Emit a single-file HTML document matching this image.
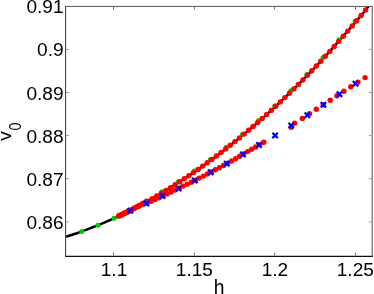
<!DOCTYPE html>
<html><head><meta charset="utf-8"><style>
html,body{margin:0;padding:0;background:#fff;}
body{width:374px;height:294px;overflow:hidden;}
svg{display:block;}
text{font-family:"Liberation Sans",sans-serif;fill:#000;}
.t{filter:grayscale(1);}
</style></head><body>
<svg width="374" height="294" viewBox="0 0 374 294">
<defs><clipPath id="c"><rect x="66" y="6" width="306" height="250"/></clipPath></defs>
<rect width="374" height="294" fill="#fff"/>
<g clip-path="url(#c)">
<polyline points="66.0,236.6 67.5,236.2 69.1,235.7 70.6,235.2 72.2,234.7 73.7,234.2 75.2,233.7 76.8,233.2 78.3,232.6 79.8,232.1 81.4,231.5 82.9,231.0 84.5,230.4 86.0,229.9 87.5,229.3 89.1,228.7 90.6,228.1 92.1,227.5 93.7,226.9 95.2,226.3 96.8,225.7 98.3,225.1 99.8,224.4 101.4,223.8 102.9,223.1 104.4,222.5 106.0,221.8 107.5,221.2 109.1,220.5 110.6,219.8 112.1,219.1 113.7,218.4 115.2,217.7 116.7,217.0 118.3,216.3 119.8,215.5 121.4,214.8 122.9,214.0 124.4,213.3 126.0,212.5 127.5,211.8 129.0,211.0 130.6,210.2 132.1,209.4 133.7,208.7 135.2,207.9 136.7,207.1 138.3,206.2 139.8,205.4 141.3,204.6 142.9,203.8 144.4,202.9 146.0,202.1 147.5,201.2 149.0,200.4 150.6,199.5 152.1,198.6 153.6,197.7 155.2,196.9 156.7,196.0 158.3,195.1 159.8,194.1 161.3,193.2 162.9,192.3 164.4,191.4 165.9,190.4 167.5,189.5 169.0,188.6 170.6,187.6 172.1,186.6 173.6,185.7 175.2,184.7 176.7,183.7 178.3,182.7 179.8,181.7 181.3,180.7 182.9,179.7 184.4,178.7 185.9,177.7 187.5,176.7 189.0,175.6 190.6,174.6 192.1,173.5 193.6,172.5 195.2,171.4 196.7,170.3 198.2,169.3 199.8,168.2 201.3,167.1 202.9,166.0 204.4,164.9 205.9,163.8 207.5,162.7 209.0,161.5 210.5,160.4 212.1,159.3 213.6,158.1 215.2,157.0 216.7,155.8 218.2,154.7 219.8,153.5 221.3,152.3 222.8,151.1 224.4,150.0 225.9,148.8 227.5,147.6 229.0,146.3 230.5,145.1 232.1,143.9 233.6,142.7 235.1,141.4 236.7,140.2 238.2,138.9 239.8,137.7 241.3,136.4 242.8,135.1 244.4,133.9 245.9,132.6 247.4,131.3 249.0,130.0 250.5,128.7 252.1,127.4 253.6,126.0 255.1,124.7 256.7,123.4 258.2,122.0 259.7,120.7 261.3,119.3 262.8,118.0 264.4,116.6 265.9,115.2 267.4,113.8 269.0,112.4 270.5,111.0 272.1,109.6 273.6,108.2 275.1,106.8 276.7,105.4 278.2,103.9 279.7,102.5 281.3,101.1 282.8,99.6 284.4,98.1 285.9,96.7 287.4,95.2 289.0,93.7 290.5,92.2 292.0,90.7 293.6,89.2 295.1,87.7 296.7,86.1 298.2,84.6 299.7,83.1 301.3,81.5 302.8,80.0 304.3,78.4 305.9,76.8 307.4,75.3 309.0,73.7 310.5,72.1 312.0,70.5 313.6,68.9 315.1,67.3 316.6,65.6 318.2,64.0 319.7,62.3 321.3,60.7 322.8,59.0 324.3,57.4 325.9,55.7 327.4,54.0 328.9,52.3 330.5,50.6 332.0,48.9 333.6,47.2 335.1,45.5 336.6,43.7 338.2,42.0 339.7,40.3 341.2,38.5 342.8,36.7 344.3,35.0 345.9,33.2 347.4,31.5 348.9,29.7 350.5,27.9 352.0,26.2 353.5,24.4 355.1,22.6 356.6,20.8 358.2,19.0 359.7,17.2 361.2,15.3 362.8,13.5 364.3,11.6 365.8,9.7 367.4,7.8 368.9,5.8" fill="none" stroke="#000" stroke-width="2.5" clip-path="url(#c)"/>
<circle cx="81.8" cy="231.4" r="2.5" fill="#00cc00"/>
<circle cx="97.9" cy="225.2" r="2.5" fill="#00cc00"/>
<circle cx="114.0" cy="218.2" r="2.5" fill="#00cc00"/>
<circle cx="130.1" cy="210.5" r="2.5" fill="#00cc00"/>
<circle cx="146.0" cy="201.0" r="2.5" fill="#00cc00"/>
<circle cx="162.1" cy="191.7" r="2.5" fill="#00cc00"/>
<circle cx="178.2" cy="181.7" r="2.5" fill="#00cc00"/>
<circle cx="194.3" cy="170.9" r="2.5" fill="#00cc00"/>
<circle cx="210.3" cy="159.4" r="2.5" fill="#00cc00"/>
<circle cx="226.4" cy="147.2" r="2.5" fill="#00cc00"/>
<circle cx="242.5" cy="134.2" r="2.5" fill="#00cc00"/>
<circle cx="258.6" cy="120.5" r="2.5" fill="#00cc00"/>
<circle cx="274.7" cy="106.0" r="2.5" fill="#00cc00"/>
<circle cx="290.8" cy="90.7" r="2.5" fill="#00cc00"/>
<circle cx="306.9" cy="74.6" r="2.5" fill="#00cc00"/>
<circle cx="323.0" cy="57.6" r="2.5" fill="#00cc00"/>
<circle cx="339.1" cy="39.8" r="2.5" fill="#00cc00"/>
<circle cx="355.1" cy="21.3" r="2.5" fill="#00cc00"/>
<circle cx="365.6" cy="10.0" r="2.7" fill="#f00"/>
<circle cx="361.1" cy="15.5" r="2.7" fill="#f00"/>
<circle cx="356.6" cy="20.8" r="2.7" fill="#f00"/>
<circle cx="352.2" cy="26.0" r="2.7" fill="#f00"/>
<circle cx="347.7" cy="31.1" r="2.7" fill="#f00"/>
<circle cx="343.2" cy="36.3" r="2.7" fill="#f00"/>
<circle cx="338.7" cy="41.4" r="2.7" fill="#f00"/>
<circle cx="334.2" cy="46.4" r="2.7" fill="#f00"/>
<circle cx="329.8" cy="51.4" r="2.7" fill="#f00"/>
<circle cx="325.3" cy="56.3" r="2.7" fill="#f00"/>
<circle cx="320.8" cy="61.2" r="2.7" fill="#f00"/>
<circle cx="316.3" cy="66.0" r="2.7" fill="#f00"/>
<circle cx="311.8" cy="70.7" r="2.7" fill="#f00"/>
<circle cx="307.4" cy="75.3" r="2.7" fill="#f00"/>
<circle cx="302.9" cy="79.9" r="2.7" fill="#f00"/>
<circle cx="298.4" cy="84.4" r="2.7" fill="#f00"/>
<circle cx="293.9" cy="88.9" r="2.7" fill="#f00"/>
<circle cx="289.4" cy="93.3" r="2.7" fill="#f00"/>
<circle cx="284.9" cy="97.6" r="2.7" fill="#f00"/>
<circle cx="280.3" cy="101.9" r="2.7" fill="#f00"/>
<circle cx="275.8" cy="106.2" r="2.7" fill="#f00"/>
<circle cx="271.3" cy="110.4" r="2.7" fill="#f00"/>
<circle cx="266.7" cy="114.5" r="2.7" fill="#f00"/>
<circle cx="262.2" cy="118.5" r="2.7" fill="#f00"/>
<circle cx="257.7" cy="122.5" r="2.7" fill="#f00"/>
<circle cx="253.1" cy="126.4" r="2.7" fill="#f00"/>
<circle cx="248.6" cy="130.3" r="2.7" fill="#f00"/>
<circle cx="244.1" cy="134.1" r="2.7" fill="#f00"/>
<circle cx="239.5" cy="137.9" r="2.7" fill="#f00"/>
<circle cx="234.9" cy="141.6" r="2.7" fill="#f00"/>
<circle cx="230.3" cy="145.3" r="2.7" fill="#f00"/>
<circle cx="225.7" cy="148.9" r="2.7" fill="#f00"/>
<circle cx="221.1" cy="152.5" r="2.7" fill="#f00"/>
<circle cx="216.5" cy="156.0" r="2.7" fill="#f00"/>
<circle cx="211.9" cy="159.4" r="2.7" fill="#f00"/>
<circle cx="207.3" cy="162.8" r="2.7" fill="#f00"/>
<circle cx="202.7" cy="166.1" r="2.7" fill="#f00"/>
<circle cx="198.1" cy="169.4" r="2.7" fill="#f00"/>
<circle cx="193.5" cy="172.6" r="2.7" fill="#f00"/>
<circle cx="188.9" cy="175.7" r="2.7" fill="#f00"/>
<circle cx="184.3" cy="178.8" r="2.7" fill="#f00"/>
<circle cx="179.7" cy="181.8" r="2.7" fill="#f00"/>
<circle cx="175.1" cy="184.8" r="2.7" fill="#f00"/>
<circle cx="170.5" cy="187.6" r="2.7" fill="#f00"/>
<circle cx="165.9" cy="190.5" r="2.7" fill="#f00"/>
<circle cx="161.3" cy="193.3" r="2.7" fill="#f00"/>
<circle cx="156.7" cy="196.0" r="2.7" fill="#f00"/>
<circle cx="152.1" cy="198.6" r="2.7" fill="#f00"/>
<circle cx="147.5" cy="201.2" r="2.7" fill="#f00"/>
<circle cx="142.9" cy="203.8" r="2.7" fill="#f00"/>
<circle cx="138.3" cy="206.2" r="2.7" fill="#f00"/>
<circle cx="133.7" cy="208.6" r="2.7" fill="#f00"/>
<circle cx="129.1" cy="211.0" r="2.7" fill="#f00"/>
<circle cx="124.5" cy="213.3" r="2.7" fill="#f00"/>
<circle cx="119.9" cy="215.5" r="2.7" fill="#f00"/>
<circle cx="119.2" cy="215.8" r="2.7" fill="#f00"/>
<circle cx="120.2" cy="215.3" r="2.7" fill="#f00"/>
<circle cx="121.2" cy="214.9" r="2.7" fill="#f00"/>
<circle cx="122.2" cy="214.4" r="2.7" fill="#f00"/>
<circle cx="123.2" cy="213.9" r="2.7" fill="#f00"/>
<circle cx="124.2" cy="213.4" r="2.7" fill="#f00"/>
<circle cx="125.2" cy="212.9" r="2.7" fill="#f00"/>
<circle cx="126.2" cy="212.4" r="2.7" fill="#f00"/>
<circle cx="127.2" cy="211.9" r="2.7" fill="#f00"/>
<circle cx="128.2" cy="211.4" r="2.7" fill="#f00"/>
<circle cx="129.2" cy="210.9" r="2.7" fill="#f00"/>
<circle cx="130.2" cy="210.4" r="2.7" fill="#f00"/>
<circle cx="132.2" cy="209.4" r="2.7" fill="#f00"/>
<circle cx="134.2" cy="208.4" r="2.7" fill="#f00"/>
<circle cx="136.2" cy="207.3" r="2.7" fill="#f00"/>
<circle cx="138.2" cy="206.3" r="2.7" fill="#f00"/>
<circle cx="140.2" cy="205.2" r="2.7" fill="#f00"/>
<circle cx="142.2" cy="204.1" r="2.7" fill="#f00"/>
<circle cx="144.2" cy="203.0" r="2.7" fill="#f00"/>
<circle cx="263.8" cy="142.2" r="2.7" fill="#f00"/>
<circle cx="259.8" cy="144.6" r="2.7" fill="#f00"/>
<circle cx="255.7" cy="147.0" r="2.7" fill="#f00"/>
<circle cx="251.7" cy="149.3" r="2.7" fill="#f00"/>
<circle cx="247.7" cy="151.6" r="2.7" fill="#f00"/>
<circle cx="243.7" cy="154.0" r="2.7" fill="#f00"/>
<circle cx="239.6" cy="156.3" r="2.7" fill="#f00"/>
<circle cx="235.6" cy="158.7" r="2.7" fill="#f00"/>
<circle cx="231.6" cy="161.0" r="2.7" fill="#f00"/>
<circle cx="227.5" cy="163.3" r="2.7" fill="#f00"/>
<circle cx="223.5" cy="165.5" r="2.7" fill="#f00"/>
<circle cx="219.5" cy="167.7" r="2.7" fill="#f00"/>
<circle cx="215.4" cy="169.8" r="2.7" fill="#f00"/>
<circle cx="211.4" cy="171.9" r="2.7" fill="#f00"/>
<circle cx="207.4" cy="174.0" r="2.7" fill="#f00"/>
<circle cx="203.4" cy="176.1" r="2.7" fill="#f00"/>
<circle cx="199.3" cy="178.1" r="2.7" fill="#f00"/>
<circle cx="195.3" cy="180.2" r="2.7" fill="#f00"/>
<circle cx="191.3" cy="182.2" r="2.7" fill="#f00"/>
<circle cx="187.2" cy="184.2" r="2.7" fill="#f00"/>
<circle cx="183.2" cy="186.1" r="2.7" fill="#f00"/>
<circle cx="179.2" cy="188.1" r="2.7" fill="#f00"/>
<circle cx="175.1" cy="190.0" r="2.7" fill="#f00"/>
<circle cx="171.1" cy="192.0" r="2.7" fill="#f00"/>
<circle cx="167.1" cy="193.9" r="2.7" fill="#f00"/>
<circle cx="163.1" cy="195.8" r="2.7" fill="#f00"/>
<circle cx="159.0" cy="197.7" r="2.7" fill="#f00"/>
<circle cx="155.0" cy="199.5" r="2.7" fill="#f00"/>
<circle cx="151.0" cy="201.4" r="2.7" fill="#f00"/>
<circle cx="146.9" cy="203.3" r="2.7" fill="#f00"/>
<circle cx="142.9" cy="203.8" r="2.7" fill="#f00"/>
<circle cx="138.9" cy="205.9" r="2.7" fill="#f00"/>
<circle cx="134.8" cy="208.0" r="2.7" fill="#f00"/>
<circle cx="130.8" cy="210.1" r="2.7" fill="#f00"/>
<circle cx="126.8" cy="212.1" r="2.7" fill="#f00"/>
<circle cx="122.8" cy="214.1" r="2.7" fill="#f00"/>
<circle cx="118.7" cy="216.0" r="2.7" fill="#f00"/>
<circle cx="294.6" cy="123.3" r="2.7" fill="#f00"/>
<circle cx="302.3" cy="118.4" r="2.7" fill="#f00"/>
<circle cx="309.5" cy="113.7" r="2.7" fill="#f00"/>
<circle cx="316.3" cy="109.3" r="2.7" fill="#f00"/>
<circle cx="323.3" cy="104.8" r="2.7" fill="#f00"/>
<circle cx="330.2" cy="100.3" r="2.7" fill="#f00"/>
<circle cx="337.0" cy="95.8" r="2.7" fill="#f00"/>
<circle cx="343.9" cy="91.3" r="2.7" fill="#f00"/>
<circle cx="350.8" cy="86.8" r="2.7" fill="#f00"/>
<circle cx="357.9" cy="82.2" r="2.7" fill="#f00"/>
<circle cx="365.1" cy="77.6" r="2.7" fill="#f00"/>
<circle cx="291.3" cy="127.2" r="2.7" fill="#f00"/>
<path d="M127.6 208.0L133.0 213.4M127.6 213.4L133.0 208.0" stroke="#00f" stroke-width="2.2" fill="none"/>
<path d="M143.7 200.8L149.1 206.2M143.7 206.2L149.1 200.8" stroke="#00f" stroke-width="2.2" fill="none"/>
<path d="M159.8 193.3L165.2 198.7M159.8 198.7L165.2 193.3" stroke="#00f" stroke-width="2.2" fill="none"/>
<path d="M175.9 185.7L181.3 191.1M175.9 191.1L181.3 185.7" stroke="#00f" stroke-width="2.2" fill="none"/>
<path d="M192.0 177.8L197.4 183.2M192.0 183.2L197.4 177.8" stroke="#00f" stroke-width="2.2" fill="none"/>
<path d="M208.0 169.6L213.4 175.0M208.0 175.0L213.4 169.6" stroke="#00f" stroke-width="2.2" fill="none"/>
<path d="M224.1 161.0L229.5 166.4M224.1 166.4L229.5 161.0" stroke="#00f" stroke-width="2.2" fill="none"/>
<path d="M240.2 151.7L245.6 157.1M240.2 157.1L245.6 151.7" stroke="#00f" stroke-width="2.2" fill="none"/>
<path d="M256.3 142.3L261.7 147.7M256.3 147.7L261.7 142.3" stroke="#00f" stroke-width="2.2" fill="none"/>
<path d="M272.4 132.7L277.8 138.1M272.4 138.1L277.8 132.7" stroke="#00f" stroke-width="2.2" fill="none"/>
<path d="M288.5 122.7L293.9 128.1M288.5 128.1L293.9 122.7" stroke="#00f" stroke-width="2.2" fill="none"/>
<path d="M304.6 112.5L310.0 117.9M304.6 117.9L310.0 112.5" stroke="#00f" stroke-width="2.2" fill="none"/>
<path d="M320.7 102.1L326.1 107.5M320.7 107.5L326.1 102.1" stroke="#00f" stroke-width="2.2" fill="none"/>
<path d="M336.8 91.5L342.2 96.9M336.8 96.9L342.2 91.5" stroke="#00f" stroke-width="2.2" fill="none"/>
<path d="M352.8 81.0L358.2 86.4M352.8 86.4L358.2 81.0" stroke="#00f" stroke-width="2.2" fill="none"/>
</g>
<g fill="none">
<path d="M65.6 5.9V256.7" stroke="#333" stroke-width="1"/>
<path d="M65.1 6.4H372.8" stroke="#555" stroke-width="1"/>
<path d="M372.25 5.9V256.9" stroke="#777" stroke-width="1.3"/>
<path d="M65.1 256.35H372.9" stroke="#111" stroke-width="1.2"/>
</g>
<g stroke="#999" stroke-width="1" fill="none">
<path stroke="#707070" d="M113.5 255.6V252.7M113.5 6.9V9.7"/>
<path stroke="#707070" d="M194.4 255.6V252.7M194.4 6.9V9.7"/>
<path stroke="#707070" d="M274.6 255.6V252.7M274.6 6.9V9.7"/>
<path stroke="#707070" d="M355.5 255.6V252.7M355.5 6.9V9.7"/>
<path d="M66.1 49.4H68.89999999999999M371.7 49.4H368.9"/>
<path d="M66.1 92.5H68.89999999999999M371.7 92.5H368.9"/>
<path d="M66.1 135.6H68.89999999999999M371.7 135.6H368.9"/>
<path d="M66.1 178.7H68.89999999999999M371.7 178.7H368.9"/>
<path d="M66.1 221.9H68.89999999999999M371.7 221.9H368.9"/>
</g>
<g class="t"><g font-size="19.1">
<text x="63.6" y="13.1" text-anchor="end">0.91</text>
<text x="63.6" y="56.2" text-anchor="end">0.9</text>
<text x="63.6" y="99.6" text-anchor="end">0.89</text>
<text x="63.6" y="142.8" text-anchor="end">0.88</text>
<text x="63.6" y="185.8" text-anchor="end">0.87</text>
<text x="63.6" y="228.8" text-anchor="end">0.86</text>
<text x="114.0" y="276" text-anchor="middle">1.1</text>
<text x="194.4" y="276" text-anchor="middle">1.15</text>
<text x="274.9" y="276" text-anchor="middle">1.2</text>
<text x="355.3" y="276" text-anchor="middle">1.25</text>
</g>
<text x="219.2" y="293.6" font-size="19.3" text-anchor="middle">h</text>
<g transform="translate(10.7,140.8) rotate(-90)"><text x="0" y="0" font-size="19">v</text><text transform="translate(10.4,10.2) scale(0.9,1)" x="0" y="0" font-size="16">0</text></g>
</g>
</svg>
</body></html>
